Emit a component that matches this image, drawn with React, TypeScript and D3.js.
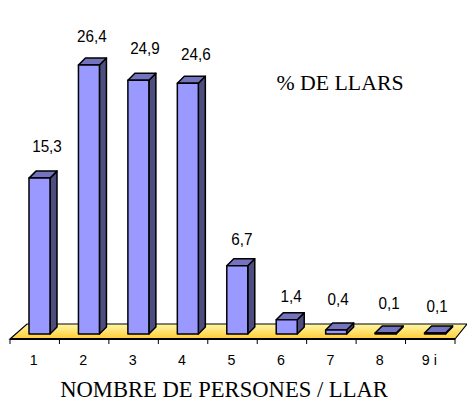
import React from "react";
import * as d3 from "d3";

const categories = ["1", "2", "3", "4", "5", "6", "7", "8", "9 i"];
const values = [15.3, 26.4, 24.9, 24.6, 6.7, 1.4, 0.4, 0.1, 0.1];
const valueLabels = ["15,3", "26,4", "24,9", "24,6", "6,7", "1,4", "0,4", "0,1", "0,1"];
const labelDx = [7.5, 3, 6.6, 8, 4.7, 4.3, 2, 3.4, 2];
const labelDy = [-19, -16, -19, -16, -14, -11, -18, -17, -14];

const W = 467, H = 400;
const axisY = 339, baseY = 334, depth = 7;
const x = d3.scaleBand<string>().domain(categories).range([10, 455]);
const y = d3.scaleLinear().domain([0, 26.4]).range([baseY, 65]);
const barOffset = 19, barW = 21;
const floorD = d3.line()([[10, axisY], [27, 324], [467, 324], [455, axisY]]) + "Z";

export default function App() {
  return (
    <svg width={W} height={H} style={{ position: "absolute", left: 0, top: 0, background: "#fff" }}>
      <defs>
        <linearGradient id="floor" x1="0" y1="0" x2="0" y2="1">
          <stop offset="0" stopColor="#FFF8A8" />
          <stop offset="1" stopColor="#FFCC33" />
        </linearGradient>
      </defs>
      <path d={floorD} fill="url(#floor)" stroke="#000" strokeWidth={1.2} />
      <line x1={10} x2={455} y1={axisY} y2={axisY} stroke="#000" strokeWidth={2} />
      {categories.map((c) => (
        <line key={c} x1={x(c)!} x2={x(c)!} y1={axisY} y2={axisY + 5} stroke="#000" strokeWidth={1} />
      ))}
      <line x1={455} x2={455} y1={axisY} y2={axisY + 5} stroke="#000" strokeWidth={1} />
      {categories.map((c, i) => {
        const x0 = x(c)! + barOffset, x1 = x0 + barW;
        const yT = y(values[i]);
        const side = d3.line()([[x1, yT], [x1 + depth, yT - depth], [x1 + depth, baseY - depth], [x1, baseY]]) + "Z";
        const top = d3.line()([[x0, yT], [x0 + depth, yT - depth], [x1 + depth, yT - depth], [x1, yT]]) + "Z";
        const common = { stroke: "#000", strokeWidth: 1.5, strokeLinejoin: "round" as const };
        return (
          <g key={c}>
            <path d={side} fill="#4D4D80" {...common} />
            <path d={top} fill="#7373BF" {...common} />
            <rect x={x0} y={yT} width={barW} height={baseY - yT} fill="#9999FF" {...common} />
          </g>
        );
      })}
      <g fontFamily="'Liberation Sans', Arial, sans-serif" fill="#000">
        {categories.map((c) => (
          <text key={c} transform={`translate(${x(c)! + x.bandwidth() / 2 - 1},365) scale(0.92,1)`} fontSize={15.5} textAnchor="middle">{c}</text>
        ))}
        {valueLabels.map((l, i) => (
          <text key={i} transform={`translate(${x(categories[i])! + barOffset + barW / 2 + labelDx[i]},${y(values[i]) - depth + labelDy[i]}) scale(0.92,1)`} fontSize={16.6} textAnchor="middle">{l}</text>
        ))}
      </g>
      <g fontFamily="'Liberation Serif', serif" fill="#000">
        <text x={340} y={90} fontSize={21.8} textAnchor="middle">% DE LLARS</text>
        <text x={224} y={397} fontSize={22.6} textAnchor="middle">NOMBRE DE PERSONES / LLAR</text>
      </g>
    </svg>
  );
}
